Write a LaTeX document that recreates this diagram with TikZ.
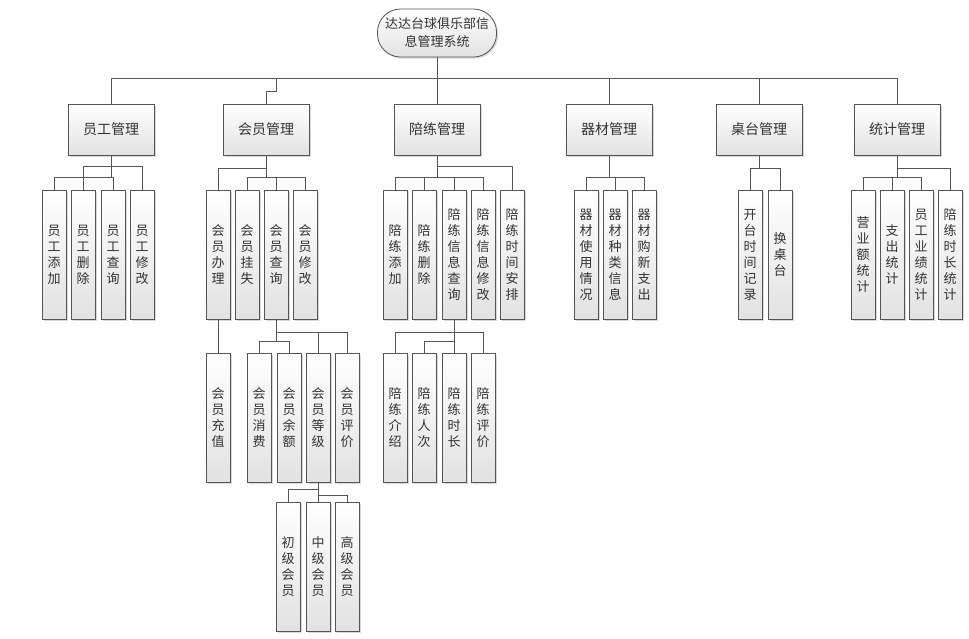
\documentclass[tikz,border=0pt]{standalone}
\usepackage{fontspec}
\setmainfont{Noto Sans CJK SC}
\usepackage{xcolor}
\usepackage{tikz}
\usetikzlibrary{shapes.misc, shadows, calc}
\definecolor{LineGray}{HTML}{555555}
\definecolor{ShadeGray}{HTML}{E2E2E2}
\definecolor{TextGray}{HTML}{333333}

\begin{document}
\begin{tikzpicture}[
  x=1pt, y=-1pt,
  rootbox/.style={draw=LineGray, rectangle, rounded corners=23pt, minimum width=119pt, minimum height=48pt, inner sep=1pt, align=center, text=TextGray, font=\fontsize{13}{18}\selectfont, top color=white, bottom color=ShadeGray, line width=0.8pt, drop shadow={shadow xshift=1.5pt, shadow yshift=-1.5pt, opacity=0.3}},
  topbox/.style={draw=LineGray, minimum width=86pt, minimum height=51pt, text=TextGray, font=\fontsize{14}{16}\selectfont, top color=white, bottom color=ShadeGray, line width=0.8pt, drop shadow={shadow xshift=1.5pt, shadow yshift=-1.5pt, opacity=0.3}},
  leafbox/.style={draw=LineGray, minimum width=24pt, minimum height=129pt, inner sep=0pt, align=center, text=TextGray, font=\fontsize{13}{16}\selectfont, top color=white, bottom color=ShadeGray, line width=0.8pt, drop shadow={shadow xshift=1.5pt, shadow yshift=-1.5pt, opacity=0.3}},
  linkstyle/.style={draw=LineGray, line width=0.8pt}
  ]
  \useasboundingbox (0,0) rectangle (969,638);
  % Root
  \node[rootbox] (root) at (437,33) {达达台球俱乐部信\\息管理系统};
  % Level 1
  \node[topbox] (emp) at (111,129.5) {员工管理};
  \node[topbox] (mem) at (266,129.5) {会员管理};
  \node[topbox] (coa) at (437,129.5) {陪练管理};
  \node[topbox] (equ) at (609,129.5) {器材管理};
  \node[topbox] (tab) at (759,129.5) {桌台管理};
  \node[topbox] (sta) at (897,129.5) {统计管理};
  % Staff
  \node[leafbox] (e1) at (54,254.5) {员\\工\\添\\加};
  \node[leafbox] (e2) at (83,254.5) {员\\工\\删\\除};
  \node[leafbox] (e3) at (113,254.5) {员\\工\\查\\询};
  \node[leafbox] (e4) at (142,254.5) {员\\工\\修\\改};
  % Members
  \node[leafbox] (m1) at (218,254.5) {会\\员\\办\\理};
  \node[leafbox] (m2) at (247,254.5) {会\\员\\挂\\失};
  \node[leafbox] (m3) at (276,254.5) {会\\员\\查\\询};
  \node[leafbox] (m4) at (305,254.5) {会\\员\\修\\改};
  \node[leafbox] (mc) at (218,417.5) {会\\员\\充\\值};
  \node[leafbox] (mx) at (259,417.5) {会\\员\\消\\费};
  \node[leafbox] (my) at (289,417.5) {会\\员\\余\\额};
  \node[leafbox] (md) at (318,417.5) {会\\员\\等\\级};
  \node[leafbox] (mp) at (347,417.5) {会\\员\\评\\价};
  \node[leafbox] (g1) at (288,566.5) {初\\级\\会\\员};
  \node[leafbox] (g2) at (318,566.5) {中\\级\\会\\员};
  \node[leafbox] (g3) at (347,566.5) {高\\级\\会\\员};
  % Coaches
  \node[leafbox] (c1) at (395,254.5) {陪\\练\\添\\加};
  \node[leafbox] (c2) at (424,254.5) {陪\\练\\删\\除};
  \node[leafbox] (c3) at (454,254.5) {陪\\练\\信\\息\\查\\询};
  \node[leafbox] (c4) at (483,254.5) {陪\\练\\信\\息\\修\\改};
  \node[leafbox] (c5) at (512,254.5) {陪\\练\\时\\间\\安\\排};
  \node[leafbox] (d1) at (395,417.5) {陪\\练\\介\\绍};
  \node[leafbox] (d2) at (424,417.5) {陪\\练\\人\\次};
  \node[leafbox] (d3) at (454,417.5) {陪\\练\\时\\长};
  \node[leafbox] (d4) at (483,417.5) {陪\\练\\评\\价};
  % Equipment
  \node[leafbox] (q1) at (586,254.5) {器\\材\\使\\用\\情\\况};
  \node[leafbox] (q2) at (615,254.5) {器\\材\\种\\类\\信\\息};
  \node[leafbox] (q3) at (644,254.5) {器\\材\\购\\新\\支\\出};
  % Tables
  \node[leafbox] (t1) at (750,254.5) {开\\台\\时\\间\\记\\录};
  \node[leafbox] (t2) at (780,254.5) {换\\桌\\台};
  % Statistics
  \node[leafbox] (s1) at (863,254.5) {营\\业\\额\\统\\计};
  \node[leafbox] (s2) at (892,254.5) {支\\出\\统\\计};
  \node[leafbox] (s3) at (921,254.5) {员\\工\\业\\绩\\统\\计};
  \node[leafbox] (s4) at (950,254.5) {陪\\练\\时\\长\\统\\计};
  % Root links
  \coordinate (memjog) at (276,91);
  \draw[linkstyle] (root.south) -- ++(0,21) -| (emp.north);
  \draw[linkstyle] (root.south) -- ++(0,21) -| (memjog) -| (mem.north);
  \draw[linkstyle] (root.south) -- (coa.north);
  \draw[linkstyle] (root.south) -- ++(0,21) -| (equ.north);
  \draw[linkstyle] (root.south) -- ++(0,21) -| (tab.north);
  \draw[linkstyle] (root.south) -- ++(0,21) -| (sta.north);
  % Staff links
  \draw[linkstyle] (emp.south) -- ++(0,22) -| (e1.north);
  \draw[linkstyle] (emp.south) -- ++(0,11) -| (e2.north);
  \draw[linkstyle] (emp.south) -- ++(0,22) -| (e3.north);
  \draw[linkstyle] (emp.south) -- ++(0,11) -| (e4.north);
  % Member links
  \draw[linkstyle] (mem.south) -- ++(0,13) -| (m1.north);
  \draw[linkstyle] (mem.south) -- ++(0,22) -| (m2.north);
  \draw[linkstyle] (mem.south) -- ++(0,22) -| (m3.north);
  \draw[linkstyle] (mem.south) -- ++(0,22) -| (m4.north);
  \draw[linkstyle] (m1.south) -- (mc.north);
  \draw[linkstyle] (m3.south) -- ++(0,22) -| (mx.north);
  \draw[linkstyle] (m3.south) -- ++(0,22) -| (my.north);
  \draw[linkstyle] (m3.south) -- ++(0,13) -| (md.north);
  \draw[linkstyle] (m3.south) -- ++(0,13) -| (mp.north);
  \draw[linkstyle] (md.south) -- ++(0,7) -| (g1.north);
  \draw[linkstyle] (md.south) -- (g2.north);
  \draw[linkstyle] (md.south) -- ++(0,13) -| (g3.north);
  % Coach links
  \draw[linkstyle] (coa.south) -- ++(0,22) -| (c1.north);
  \draw[linkstyle] (coa.south) -- ++(0,22) -| (c2.north);
  \draw[linkstyle] (coa.south) -- ++(0,22) -| (c3.north);
  \draw[linkstyle] (coa.south) -- ++(0,22) -| (c4.north);
  \draw[linkstyle] (coa.south) -- ++(0,11) -| (c5.north);
  \draw[linkstyle] (c3.south) -- ++(0,13) -| (d1.north);
  \draw[linkstyle] (c3.south) -- ++(0,22) -| (d2.north);
  \draw[linkstyle] (c3.south) -- (d3.north);
  \draw[linkstyle] (c3.south) -- ++(0,13) -| (d4.north);
  % Equipment links
  \draw[linkstyle] (equ.south) -- ++(0,22) -| (q1.north);
  \draw[linkstyle] (equ.south) -- ++(0,22) -| (q2.north);
  \draw[linkstyle] (equ.south) -- ++(0,22) -| (q3.north);
  % Table links
  \draw[linkstyle] (tab.south) -- ++(0,13) -| (t1.north);
  \draw[linkstyle] (tab.south) -- ++(0,13) -| (t2.north);
  % Statistics links
  \draw[linkstyle] (sta.south) -- ++(0,22) -| (s1.north);
  \draw[linkstyle] (sta.south) -- ++(0,22) -| (s2.north);
  \draw[linkstyle] (sta.south) -- ++(0,22) -| (s3.north);
  \draw[linkstyle] (sta.south) -- ++(0,13) -| (s4.north);
\end{tikzpicture}
\end{document}
